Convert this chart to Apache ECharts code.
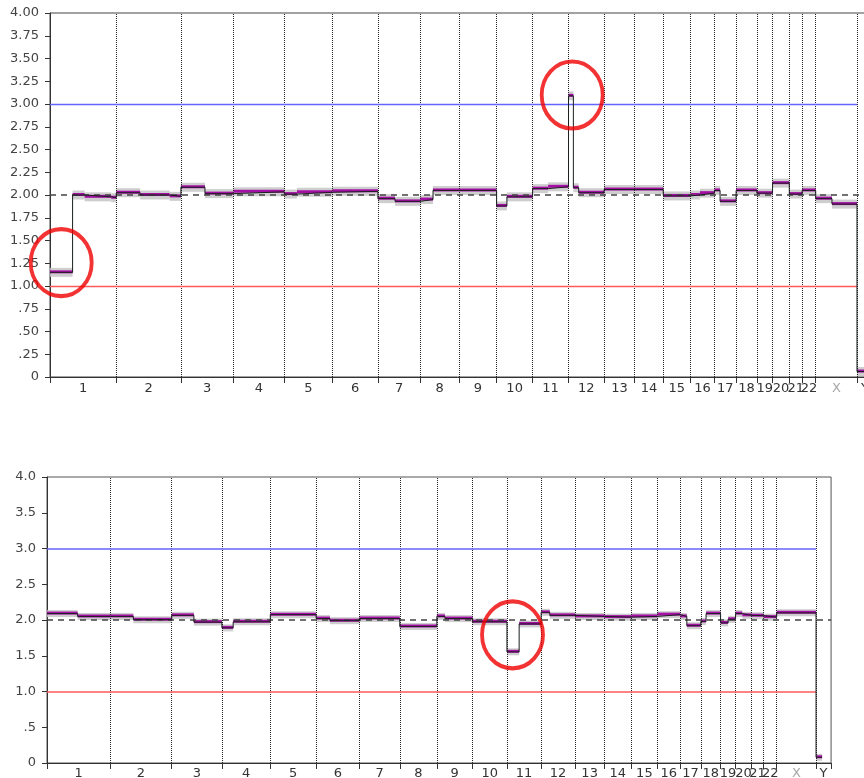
<!DOCTYPE html>
<html>
<head>
<meta charset="utf-8">
<script src="https://cdn.jsdelivr.net/npm/echarts@6/dist/echarts.min.js"></script>
<style>
html,body{margin:0;padding:0;background:#fff;}
#chart{width:864px;height:778px;}
</style>
</head>
<body>
<div id="chart"></div>
<script>
// Chromosome names and lengths (Mb) — boundaries
const chromNames = ['1','2','3','4','5','6','7','8','9','10','11','12','13','14','15','16','17','18','19','20','21','22','X','Y'];
const chromLengths = [249.25,243.2,198.0,191.15,180.9,171.1,159.15,146.35,141.2,135.5,135.0,133.85,115.15,107.35,102.5,90.35,81.2,78.1,59.1,63.0,48.1,51.3,155.3,59.4];

// Top panel segments: [start Mb, end Mb, copy number]
const topSegments = [
  [0,85,1.15],[85,130,2.00],[130,230,1.98],[230,249.25,1.97],
  [249.25,339,2.025],[339,450,2.00],[450,492.45,1.985],
  [492.45,583,2.085],[583,690.45,2.015],
  [690.45,881.6,2.035],
  [881.6,929,2.01],[929,1062.5,2.03],
  [1062.5,1233.6,2.04],
  [1233.6,1298,1.96],[1298,1392.75,1.93],
  [1392.75,1441,1.95],[1441,1539.1,2.05],
  [1539.1,1680.3,2.05],
  [1680.3,1719,1.88],[1719,1815.8,1.98],
  [1815.8,1874,2.07],[1874,1950.8,2.09],
  [1950.8,1969,3.09],[1969,1989,2.08],[1989,2084.65,2.025],
  [2084.65,2199.8,2.06],
  [2199.8,2307.15,2.06],
  [2307.15,2409.65,1.99],
  [2409.65,2445,2.00],[2445,2500,2.02],
  [2500,2521,2.05],[2521,2581.2,1.93],
  [2581.2,2659.3,2.05],
  [2659.3,2718.4,2.02],
  [2718.4,2781.4,2.13],
  [2781.4,2829.5,2.01],
  [2829.5,2880.8,2.05],
  [2880.8,2942,1.96],[2942,3036.1,1.90],
  [3036.1,3095.5,0.06]
];

// Bottom panel segments
const bottomSegments = [
  [0,121,2.09],[121,249.25,2.05],
  [249.25,341,2.05],[341,492.45,2.005],
  [492.45,580,2.065],[580,690.45,1.97],
  [690.45,735,1.89],[735,881.6,1.975],
  [881.6,1062.5,2.075],
  [1062.5,1117,2.02],[1117,1233.6,1.99],
  [1233.6,1392.75,2.02],
  [1392.75,1539.1,1.91],
  [1539.1,1571,2.05],[1571,1680.3,2.02],
  [1680.3,1815.8,1.975],
  [1815.8,1864,1.555],[1864,1950.8,1.945],
  [1950.8,1985,2.107],[1985,2084.65,2.065],
  [2084.65,2199.8,2.05],
  [2199.8,2307.15,2.04],
  [2307.15,2409.65,2.05],
  [2409.65,2500,2.075],
  [2500,2526,2.05],[2526,2581.2,1.92],
  [2581.2,2602,1.98],[2602,2659.3,2.09],
  [2659.3,2689,1.96],[2689,2718.4,2.01],
  [2718.4,2745,2.09],[2745,2781.4,2.065],
  [2781.4,2829.5,2.06],
  [2829.5,2880.8,2.04],
  [2880.8,3036.1,2.10],
  [3036.1,3060,0.08]
];

// Highlight circles: [Mb, copy number]
const topCircles = [[42.1,1.256],[1964.6,3.099]];
const bottomCircles = [[1837.8,1.793]];

// Reference levels
const gainLevel = 3, neutralLevel = 2, lossLevel = 1;
const topYTicks = 0.25, bottomYTicks = 0.5;

// ---- derived ----
const bounds = [0];
chromLengths.forEach(l => bounds.push(+(bounds[bounds.length-1] + l).toFixed(2)));
const genomeEnd = bounds[bounds.length-1];
const autoEnd = bounds[bounds.length-2];
const mids = chromLengths.map((l,i) => +(bounds[i] + l/2).toFixed(3));

function stepLine(segs){
  const pts = [];
  segs.forEach(s => { pts.push([s[0], s[2]]); pts.push([s[1], s[2]]); });
  return pts;
}

const FONT = 'DejaVu Sans';
function xAxisCfg(gi){
  return {
    type:'value', gridIndex:gi, min:0, max:genomeEnd,
    axisLine:{show:true, onZero:false, lineStyle:{color:'#333', width:1}},
    axisTick:{show:true, customValues:bounds, length:6, lineStyle:{color:'#333'}},
    splitLine:{show:false},
    axisLabel:{
      customValues:mids, margin:gi===0?5:4, fontFamily:FONT, fontSize:13, color:'#333',
      formatter:function(v){
        const i = mids.findIndex(m => Math.abs(m - v) < 0.01);
        const n = i >= 0 ? chromNames[i] : '';
        return n === 'X' ? '{g|X}' : n;
      },
      rich:{g:{color:'#a8a8a8', fontFamily:FONT, fontSize:13}}
    }
  };
}
function yAxisCfg(gi, step, digits){
  return {
    type:'value', gridIndex:gi, min:0, max:4, interval:step,
    axisLine:{show:true, lineStyle:{color:'#333'}},
    axisTick:{show:true, length:5, lineStyle:{color:'#333'}},
    splitLine:{show:false},
    axisLabel:{
      margin:11, fontFamily:FONT, fontSize:13, color:'#444',
      formatter:function(v){
        if (v === 0) return '0';
        let s = v.toFixed(digits);
        if (s.startsWith('0.')) s = s.slice(1);
        return s;
      }
    }
  };
}

// draws one horizontal piece per segment through the axes' scales
function segRenderer(kind, size, color){
  return function(params, api){
    const a = api.coord([api.value(0), api.value(2)]);
    const b = api.coord([api.value(1), api.value(2)]);
    if (kind === 'band') {
      return {type:'rect', shape:{x:a[0], y:a[1]-size/2, width:b[0]-a[0], height:size},
              style:{fill:color}};
    }
    return {type:'line', shape:{x1:a[0], y1:a[1]-0.5, x2:b[0], y2:b[1]-0.5},
            style:{stroke:color, lineWidth:size, fill:null}};
  };
}

function panelSeries(gi, segs, circles, bandW, refW){
  return [
    { // chromosome boundaries + reference lines
      type:'line', xAxisIndex:gi, yAxisIndex:gi, data:[], silent:true,
      markLine:{
        silent:true, symbol:['none','none'], label:{show:false}, animation:false,
        data: bounds.slice(1, bounds.length-1).map(b => ({xAxis:b, lineStyle:{color:'#222', type:'dotted', width:1}}))
          .concat([
            [{coord:[0,gainLevel], lineStyle:{color:'#6464ff', type:'solid', width:refW}}, {coord:[autoEnd,gainLevel]}],
            [{coord:[0,lossLevel], lineStyle:{color:'#ff5a5a', type:'solid', width:refW}}, {coord:[autoEnd,lossLevel]}],
            [{coord:[0,neutralLevel], lineStyle:{color:'#444', type:[6,5], width:1.5}}, {coord:[genomeEnd,neutralLevel]}]
          ])
      }
    },
    { // probe scatter band
      type:'custom', xAxisIndex:gi, yAxisIndex:gi, data:segs, silent:true, z:3,
      encode:{x:[0,1], y:2},
      renderItem:segRenderer('band', bandW, 'rgba(198,198,198,0.85)')
    },
    { // segment calls
      type:'custom', xAxisIndex:gi, yAxisIndex:gi, data:segs, silent:true, z:4,
      encode:{x:[0,1], y:2},
      renderItem:segRenderer('line', 3, '#a40fa4')
    },
    { // smoothed copy number
      type:'line', xAxisIndex:gi, yAxisIndex:gi, data:stepLine(segs), showSymbol:false,
      silent:true, z:5,
      lineStyle:{color:'#1a1f1f', width:1}
    },
    { // highlight circles
      type:'scatter', xAxisIndex:gi, yAxisIndex:gi, data:circles, clip:false, silent:true, z:10,
      symbol:'circle', symbolSize:[61,67],
      itemStyle:{color:'rgba(0,0,0,0)', borderColor:'#f00000', borderWidth:4}
    }
  ];
}

const chart = echarts.init(document.getElementById('chart'), null, {renderer:'canvas'});
chart.setOption({
  animation:false,
  backgroundColor:'#ffffff',
  grid:[
    {left:50, top:13, width:genomeEnd*0.2658, height:364, show:true, borderColor:'#444', borderWidth:1, backgroundColor:'transparent', outerBoundsMode:'none', containLabel:false},
    {left:47, top:477, width:genomeEnd*0.2533, height:286, show:true, borderColor:'#555', borderWidth:1, backgroundColor:'transparent', outerBoundsMode:'none', containLabel:false}
  ],
  xAxis:[xAxisCfg(0), xAxisCfg(1)],
  yAxis:[yAxisCfg(0, topYTicks, 2), yAxisCfg(1, bottomYTicks, 1)],
  series: panelSeries(0, topSegments, topCircles, 9, 1.3).concat(panelSeries(1, bottomSegments, bottomCircles, 7, 1.6))
});
</script>
</body>
</html>
